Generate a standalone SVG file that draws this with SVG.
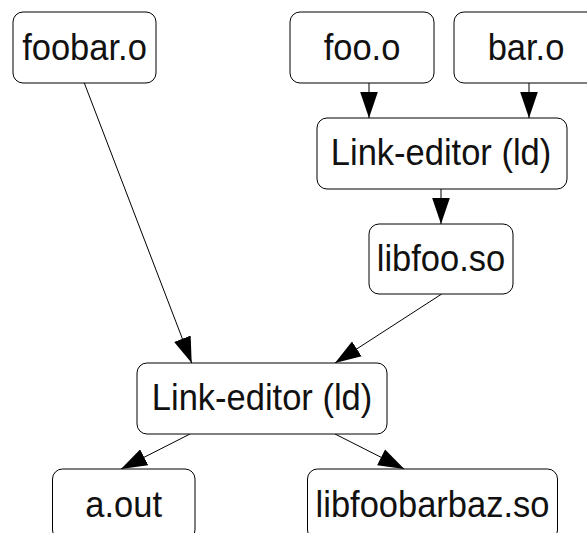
<svg xmlns="http://www.w3.org/2000/svg" width="587" height="533" viewBox="0 0 587 533">
<defs>
<style>
.node rect{fill:#fff;stroke:#000;stroke-width:1}
.node text{font-family:"Liberation Sans",Arial,sans-serif;font-size:34.5px;fill:#111;text-anchor:middle}
.edge{stroke:#000;stroke-width:1;fill:none;marker-end:url(#ah)}
</style>
<marker id="ah" markerUnits="userSpaceOnUse" markerWidth="26" markerHeight="18" viewBox="0 0 25 17" refX="25" refY="8.5" orient="auto">
<polygon points="0,0 25,8.5 0,17" fill="#000"/>
</marker>
</defs>
<rect width="587" height="533" fill="#fff"/>
<g id="connectors">
<line class="edge" x1="369" y1="83" x2="369" y2="118"/>
<line class="edge" x1="529" y1="83" x2="529" y2="118"/>
<line class="edge" x1="441" y1="189" x2="441" y2="224"/>
<line class="edge" x1="441.7" y1="294" x2="335" y2="363"/>
<line class="edge" x1="84.3" y1="83" x2="191.7" y2="363"/>
<line class="edge" x1="190" y1="434" x2="121" y2="469"/>
<line class="edge" x1="335" y1="434" x2="404.3" y2="469"/>
</g>
<g id="foobar_o" class="node"><rect x="13" y="12" width="143" height="71" rx="10"/><text transform="translate(84.5 60) scale(1 1.08)">foobar.o</text></g>
<g id="foo_o" class="node"><rect x="290" y="12" width="144" height="71" rx="10"/><text transform="translate(362 60) scale(1 1.08)">foo.o</text></g>
<g id="bar_o" class="node"><rect x="454" y="12" width="144" height="71" rx="10"/><text transform="translate(526 60) scale(1 1.08)">bar.o</text></g>
<g id="ld1" class="node"><rect x="317" y="118" width="250" height="71" rx="10"/><text transform="translate(441 165) scale(1 1.08)">Link-editor (ld)</text></g>
<g id="libfoo_so" class="node"><rect x="369" y="224" width="144" height="70" rx="10"/><text transform="translate(441 271) scale(1 1.08)">libfoo.so</text></g>
<g id="ld2" class="node"><rect x="137" y="363" width="250" height="71" rx="10"/><text transform="translate(262 410) scale(1 1.08)">Link-editor (ld)</text></g>
<g id="a_out" class="node"><rect x="52.5" y="469" width="142.5" height="71" rx="10"/><text transform="translate(123.7 517) scale(1 1.08)">a.out</text></g>
<g id="libfoobarbaz_so" class="node"><rect x="307.5" y="469" width="250" height="71" rx="10"/><text transform="translate(432.5 517) scale(1 1.08)">libfoobarbaz.so</text></g>
</svg>
